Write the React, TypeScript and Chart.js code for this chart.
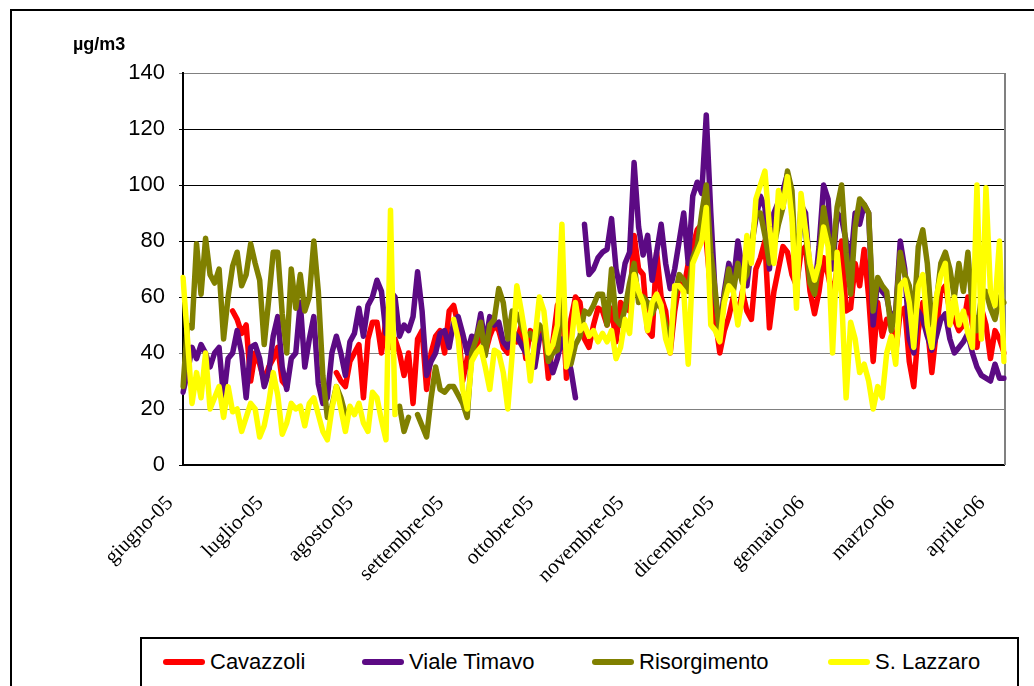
import React, { useEffect, useRef } from 'react';
import { Chart, registerables } from 'chart.js';

Chart.register(...registerables);

// Month labels shown on the category axis (one every `pointsPerLabel` samples)
const monthLabels = ['giugno-05', 'luglio-05', 'agosto-05', 'settembre-05', 'ottobre-05', 'novembre-05', 'dicembre-05', 'gennaio-06', 'marzo-06', 'aprile-06'];
const pointsPerLabel = 20;

const seriesNames = ['Cavazzoli', 'Viale Timavo', 'Risorgimento', 'S. Lazzaro'];
const seriesColors = ['#FF0000', '#5C0A84', '#808000', '#FFFF00'];

const yMin = 0;
const yMax = 140;
const yStep = 20;
const unitLabel = 'µg/m3';

const cavazzoli = [
  null, null, null, null, null, null, null, null, null, null,
  null, 55, 52, 47, 50, 30, 40, 36, 30, 35,
  38, 42, 30, 28, null, null, null, null, null, null,
  null, null, null, null, 33, 30, 28, 37, 40, 43,
  24, 45, 51, 51, 40, 52, 42, 45, 40, 32,
  40, 22, 45, 48, 27, 40, 46, 48, 40, 55,
  57, 50, 30, 38, 44, 42, 48, 40, 46, 50,
  48, 42, 40, 45, 44, 50, 38, 48, 44, 46,
  48, 31, 44, 57, 60, 31, 52, 60, 58, 45,
  42, 50, 56, 55, 50, 56, 44, 58, 56, 55,
  82, 70, 68, 48, 46, 76, 60, 55, 40, 55,
  65, 63, 72, 78, 84, 86, 80, 62, 52, 40,
  48, 53, 60, 53, 62, 55, 52, 70, 74, 80,
  49, 62, 70, 78, 76, 68, 64, 76, 78, 62,
  54, 62, 74, 68, 60, 70, 80, 55, 56, 72,
  64, 77, 60, 37, 58, 46, 52, 50, 40, 55,
  56, 37, 28, 48, 58, 50, 33, 48, 62, 64,
  55, 52, 48, 50, 60, 50, 42, 56, 50, 38,
  48, 45, 40,
];

const vialeTimavo = [
  26, 33, 42, 38, 43, 40, 35, 40, 42, 24,
  38, 40, 48, 40, 24, 42, 43, 38, 28, 33,
  46, 53, 35, 27, 38, 40, 58, 35, 45, 53,
  29, 22, 24, 40, 46, 40, 32, 44, 47, 56,
  46, 57, 60, 66, 62, 47, 62, 60, 46, 50,
  48, 53, 69, 55, 32, 37, 40, 47, 48, 42,
  51, 53, 47, 40, 46, 45, 54, 43, 53, 50,
  51, 44, 42, 48, 46, 43, 40, 38, 35, 45,
  47, 40, 33, 38, 45, 40, 34, 24, null, 86,
  68, 70, 74, 76, 77, 88, 70, 62, 72, 76,
  108, 85, 75, 82, 66, 76, 86, 72, 63, 70,
  80, 90, 72, 96, 101, 97, 125, 90, 60, 48,
  62, 72, 65, 80, 70, 64, 78, 88, 96, 92,
  70, 90, 94, 98, 104, 92, 60, 93, 90, 68,
  62, 78, 100, 95, 70, 90, 88, 80, 72, 90,
  86, 93, 90, 50, 66, 62, 60, 52, 55, 80,
  70, 45, 40, 55, 52, 46, 41, 46, 52, 54,
  45, 40, 42, 44, 47, 40, 35, 32, 31, 30,
  36, 31, 31,
];

const risorgimento = [
  28, 50, 49, 79, 61, 81, 68, 65, 70, 45,
  60, 71, 76, 64, 68, 79, 72, 66, 43, 59,
  76, 76, 54, 40, 70, 56, 68, 55, 60, 80,
  62, 32, 17, 21, 28, 24, 18, null, null, null,
  null, null, null, null, null, null, null, null, 21, 12,
  17, null, 18, 14, 10, 24, 35, 27, 26, 28,
  28, 25, 22, 17, 40, 45, 51, 39, 50, 52,
  63, 58, 45, 55, 54, 50, 46, 47, 44, 50,
  48, 37, 40, 41, 62, 42, 36, 43, 46, 55,
  54, 57, 61, 61, 50, 70, 52, 50, 56, 65,
  72, 58, 60, 58, 54, 58, 56, 50, 42, 60,
  68, 66, 62, 74, 78, 90, 100, 76, 62, 46,
  60, 70, 62, 72, 65, 68, 78, 90, 90, 82,
  72, 78, 86, 92, 105, 98, 65, 90, 84, 65,
  61, 72, 92, 82, 74, 92, 100, 76, 61, 85,
  95, 93, 90, 55, 67, 64, 62, 48, 55, 76,
  68, 64, 52, 78, 84, 72, 50, 58, 72, 76,
  70, 60, 72, 62, 76, 55, 48, 60, 62, 56,
  52, 60, 58,
];

const sLazzaro = [
  67, 45, 22, 33, 24, 40, 20, 24, 28, 17,
  28, 19, 20, 12, 17, 22, 20, 10, 14, 22,
  33, 25, 11, 15, 22, 20, 21, 14, 22, 24,
  18, 12, 9, 20, 28, 20, 12, 21, 18, 22,
  15, 12, 26, 24, 16, 9, 91, 18, null, null,
  null, null, null, null, null, null, null, null, null, null,
  52, 45, 27, 20, 37, 40, 42, 35, 27, 41,
  40, 33, 20, 40, 64, 55, 45, 30, 45, 60,
  55, 40, 43, 50, 86, 35, 42, 58, 48, 50,
  46, 48, 44, 47, 44, 48, 38, 42, 52, 47,
  68, 62, 58, 48, 58, 61, 57, 45, 40, 64,
  64, 62, 36, 72, 76, 80, 92, 50, 48, 44,
  58, 64, 62, 50, 60, 82, 72, 95, 100, 105,
  85, 72, 98, 92, 103, 88, 56, 97, 84, 72,
  66, 72, 85, 78, 40, 76, 60, 24, 51, 45,
  33, 36, 30, 20, 28, 24, 40, 46, 36, 64,
  66, 58, 42, 64, 68, 50, 42, 60, 68, 72,
  50, 60, 50, 55, 47, 42, 100, 45, 99, 62,
  57, 80, 37,
];

const W = 1034;
const H = 686;

const plotFrame = {
  id: 'plotFrame',
  beforeDatasetsDraw(chart: any) {
    const { ctx, chartArea } = chart;
    ctx.save();
    ctx.strokeStyle = '#808080';
    ctx.lineWidth = 2;
    ctx.beginPath();
    ctx.moveTo(chartArea.right + 1, chartArea.top);
    ctx.lineTo(chartArea.right + 1, chartArea.bottom);
    ctx.stroke();
    ctx.restore();
  },
};

export default function App() {
  const canvasRef = useRef<HTMLCanvasElement>(null);

  useEffect(() => {
    const n = cavazzoli.length;
    const categories = Array.from({ length: n }, (_, i) =>
      i % pointsPerLabel === 0 ? (monthLabels[i / pointsPerLabel] ?? '') : ''
    );
    const series = [cavazzoli, vialeTimavo, risorgimento, sLazzaro];
    const chart = new Chart(canvasRef.current as HTMLCanvasElement, {
      type: 'line',
      data: {
        labels: categories,
        datasets: series.map((d, k) => ({
          label: seriesNames[k],
          data: d,
          borderColor: seriesColors[k],
          backgroundColor: seriesColors[k],
          borderWidth: 5.5,
          pointRadius: 0,
          pointHoverRadius: 0,
          tension: 0,
          spanGaps: false,
          order: series.length - 1 - k,
          borderJoinStyle: 'round',
          borderCapStyle: 'round',
        })),
      },
      options: {
        responsive: false,
        animation: false,
        devicePixelRatio: 1,
        layout: { padding: { left: 0, right: 30, top: 73, bottom: 0 } },
        plugins: {
          legend: { display: false },
          tooltip: { enabled: false },
          title: { display: false },
        },
        scales: {
          x: {
            type: 'category',
            grid: { display: false, drawTicks: false },
            border: { display: true, color: '#000000', width: 2 },
            ticks: {
              autoSkip: false,
              minRotation: 45,
              maxRotation: 45,
              color: '#000000',
              padding: 26,
              labelOffset: -13,
              font: { family: 'Liberation Serif', size: 21 },
            },
            afterFit: (s: any) => {
              s.height = H - 465;
              s.paddingLeft = 0;
              s.paddingRight = 0;
            },
          },
          y: {
            min: yMin,
            max: yMax,
            ticks: {
              stepSize: yStep,
              color: '#000000',
              padding: 14,
              font: { family: 'Liberation Sans', size: 22 },
            },
            grid: {
              color: (c: any) =>
                c.tick && (c.tick.value === 20 || c.tick.value === 40 || c.tick.value === 140) ? '#808080' : '#000000',
              lineWidth: 1,
              drawTicks: true,
              tickLength: 4,
            },
            border: { display: true, color: '#000000', width: 2 },
            afterFit: (s: any) => {
              s.width = 183;
            },
          },
        },
      },
      plugins: [plotFrame],
    });
    return () => chart.destroy();
  }, []);

  const legendLefts = [163, 362, 592, 828];

  return (
    <div style={{ position: 'fixed', left: 0, top: 0, width: W, height: H, overflow: 'hidden', background: '#fff' }}>
      <div
        style={{
          position: 'absolute',
          left: 10,
          top: 9,
          width: 1100,
          height: 800,
          border: '2px solid #000',
          boxSizing: 'border-box',
        }}
      />
      <canvas ref={canvasRef} width={W} height={H} style={{ position: 'absolute', left: 0, top: 0, width: W, height: H }} />
      <div
        style={{
          position: 'absolute',
          left: 73,
          top: 34,
          fontFamily: 'Liberation Sans, Arial, sans-serif',
          fontWeight: 'bold',
          fontSize: 18,
          lineHeight: '20px',
          color: '#000',
        }}
      >
        {unitLabel}
      </div>
      <div
        style={{
          position: 'absolute',
          left: 140,
          top: 637,
          width: 879,
          height: 52,
          border: '2px solid #000',
          borderBottomColor: '#808080',
          boxSizing: 'border-box',
          background: '#fff',
        }}
      >
        {seriesNames.map((name, k) => (
          <div
            key={name}
            style={{
              position: 'absolute',
              left: legendLefts[k] - 142,
              top: 10,
              height: 26,
              display: 'flex',
              alignItems: 'center',
              whiteSpace: 'nowrap',
            }}
          >
            <span
              style={{
                display: 'inline-block',
                width: 42,
                height: 6,
                borderRadius: 3,
                background: seriesColors[k],
                marginRight: 5,
              }}
            />
            <span style={{ fontFamily: 'Liberation Sans, Arial, sans-serif', fontSize: 22, color: '#000', lineHeight: '26px' }}>
              {name}
            </span>
          </div>
        ))}
      </div>
    </div>
  );
}
